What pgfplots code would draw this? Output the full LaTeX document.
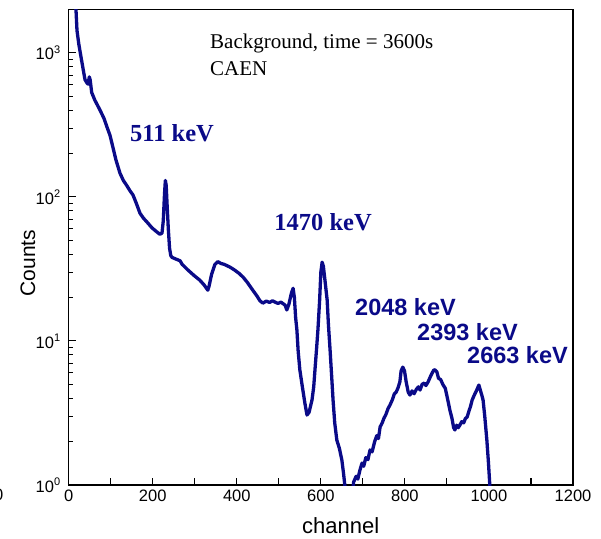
\documentclass[border=0pt]{standalone}
\usepackage{fontspec}
\setmainfont{Liberation Sans}
\newfontfamily\timesf{Liberation Serif}
\usepackage{pgfplots}
\pgfplotsset{compat=1.18}
\definecolor{navy}{HTML}{0A0A88}
\newcommand{\expo}[1]{\raisebox{0.8ex}{\fontsize{11}{11}\selectfont #1}}

\begin{document}
\begin{tikzpicture}
\begin{axis}[
    at={(68.7pt,-485pt)}, anchor=south west,
    scale only axis, width=504.3pt, height=475.3pt,
    xmin=0, xmax=1200,
    ymode=log, ymin=1, ymax=1990,
    xtick={0,100,...,1200},
    xticklabels={0,,200,,400,,600,,800,,1000,,1200},
    ytick={1,10,100,1000},
    yticklabels={10\expo{0},10\expo{1},10\expo{2},10\expo{3}},
    minor ytick={2,3,4,5,6,7,8,9,20,30,40,50,60,70,80,90,200,300,400,500,600,700,800,900},
    xtick pos=bottom, ytick pos=left,
    tick align=inside,
    major tick length=7.5pt, minor tick length=4.5pt,
    every tick/.style={black, line width=1.1pt},
    axis line style={line width=1.3pt},
    ticklabel style={font=\fontsize{16.5}{16.5}\selectfont},
    /pgf/number format/assume math mode=true,
    xticklabel style={yshift=-1pt},
    yticklabel style={xshift=-5pt},
]
\addplot[navy, line width=3.3pt, line join=round] coordinates {
(15,2300) (17.4,1970) (19.7,1430) (24,1150) (28.6,960) (34,780) (38.8,650)
(43,620) (46,605) (49,680) (51,650) (54.7,530) (62,470) (74.5,400) (84,350)
(92,300) (98.3,267) (105,222) (112.5,180) (122,146) (130,130) (138,120)
(146,110) (153,103) (161,90) (169.6,77) (178,71) (186,67) (198,61) (210,57)
(217,55) (222,56) (225,68) (228,105) (230,130) (232,120) (234,90) (237,60)
(240,44) (243,39) (246,38) (255,37) (265,36) (270,34) (284,31) (298,28.5)
(312,26.4) (322,24.5) (331,22.5) (334,24) (340,29) (348,34) (355,35.5)
(362,34.5) (370,34) (384,32.5) (395,31) (405,29.5) (415,27.7) (425,25.5)
(438,22.5) (448,20.5) (455,19) (462,18.3) (470,18.9) (478,18.5) (485,19)
(491,18.6) (498,18.2) (505,18.6) (515,17.7) (519,16.4) (524,18) (530,21.5)
(534,23.2) (537,20) (540,14.5) (543,11.9) (546,8.5) (550,6.3) (556,4.8)
(562,3.7) (567,3.06) (572,3.2) (579,3.9) (583,4.8) (586,6.3) (590,9)
(593,11.9) (597,19) (600,30) (603,35.2) (606,33) (610,26) (615,19.2)
(618,13) (622,8.6) (626,5.5) (629,3.9) (633,2.7) (638,2.05) (644,1.8)
(650,1.49) (654,1.2) (657,1.0) (660,0.8)
(674,0.8) (678,1.05) (684,1.15) (688,1.1) (693,1.27) (698,1.42) (702,1.35)
(707,1.55) (712,1.5) (717,1.75) (722,1.7) (728,2.0) (733,2.2) (737,2.1)
(741,2.53) (746,2.7) (750,2.9) (755,3.1) (760,3.4) (764.5,3.59) (770,3.9)
(775,4.3) (779,4.4) (783.5,4.71) (788,5.2) (791,6.2) (795,6.58) (799,6.2)
(803,5.2) (808,4.4) (812,4.21) (817,4.5) (822,4.3) (827,4.6) (832,4.8)
(836,4.56) (841,5.0) (846,5.1) (850,4.9) (855,5.18) (860,5.6) (865,6.0)
(869,6.3) (872,6.28) (876,6.1) (880,5.5) (885,5.4) (891,4.94) (896,4.7)
(902,3.9) (907,3.31) (912,2.9) (916,2.5) (919,2.41) (923,2.6) (927,2.5)
(931,2.61) (935,2.75) (940,2.7) (944,2.9) (948,2.96) (953,3.3) (956,3.5)
(960,3.89) (965,4.2) (970,4.5) (976,4.94) (980,4.5) (983,4.2) (986,3.89)
(990,3.0) (995,2.05) (999,1.4) (1002,1.0) (1004,0.8)
};
\end{axis}
% texts, placed in pixel positions of the reference (y downwards as -y)
\begin{scope}[x=1pt,y=1pt]
\node[anchor=base west, inner sep=0, font=\timesf\fontsize{21}{21}\selectfont] at (210,-48.3) {Background, time = 3600s};
\node[anchor=base west, inner sep=0, font=\timesf\fontsize{21}{21}\selectfont] at (210,-75) {CAEN};
\node[anchor=base west, inner sep=0, text=navy, font=\timesf\bfseries\fontsize{24.5}{24.5}\selectfont] at (130,-141.7) {511 keV};
\node[anchor=base east, inner sep=0, text=navy, font=\timesf\bfseries\fontsize{24.5}{24.5}\selectfont] at (372,-230) {1470 keV};
\node[anchor=base west, inner sep=0, text=navy, font=\bfseries\fontsize{23.5}{23.5}\selectfont] at (355,-315) {2048 keV};
\node[anchor=base west, inner sep=0, text=navy, font=\bfseries\fontsize{23.5}{23.5}\selectfont] at (417,-340) {2393 keV};
\node[anchor=base west, inner sep=0, text=navy, font=\bfseries\fontsize{23.5}{23.5}\selectfont] at (467,-363) {2663 keV};
\node[anchor=base west, inner sep=0, font=\fontsize{22}{22}\selectfont] at (302,-533.3) {channel};
\node[anchor=base west, inner sep=0, rotate=90, font=\fontsize{21}{21}\selectfont] at (35,-296.7) {Counts};
\node[anchor=base east, inner sep=0, font=\fontsize{16.5}{16.5}\selectfont] at (3.5,-500.5) {0};
\pgfresetboundingbox
\useasboundingbox (0,0) rectangle (601,-538);
\end{scope}
\end{tikzpicture}
\end{document}
